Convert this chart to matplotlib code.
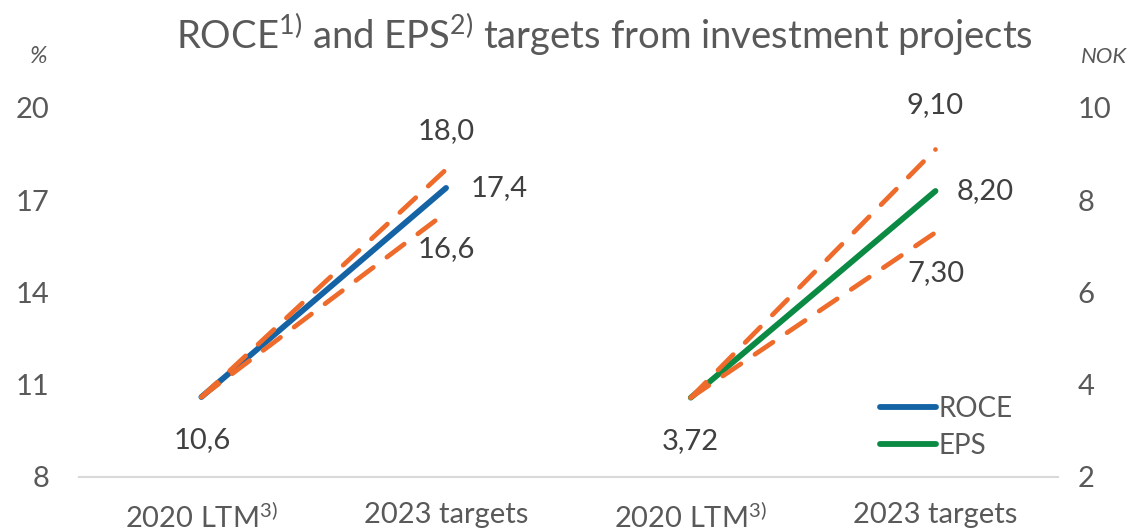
import matplotlib.pyplot as plt
import numpy as np

plt.rcParams["font.family"] = ["Lato", "DejaVu Sans"]
plt.rcParams["mathtext.fontset"] = "custom"
plt.rcParams["mathtext.rm"] = "Lato"
plt.rcParams["mathtext.it"] = "Lato:italic"

# data
categories = ["2020 LTM$^{3)}$", "2023 targets", "2020 LTM$^{3)}$", "2023 targets"]
roce = [10.6, 17.4]
roce_high = [10.6, 18.0]
roce_low = [10.6, 16.6]
eps = [3.72, 8.20]
eps_high = [3.72, 9.10]
eps_low = [3.72, 7.30]
roce_ticks = [8, 11, 14, 17, 20]
eps_ticks = [2, 4, 6, 8, 10]

blue = "#1463A5"
green = "#0B8A44"
orange = "#EE6B2B"
grey = "#595959"

fig = plt.figure(figsize=(11.35, 5.32), dpi=100)
ax = fig.add_axes([0.0696, 0.1034, 0.8624, 0.6936])
ax2 = ax.twinx()

x = np.arange(len(categories))
xr = x[:2]
xe = x[2:]

dash = dict(color=orange, lw=3.4, ls=(0, (4.6, 3.6)), dash_capstyle="round", zorder=3)
ax.plot(xr, roce_high, **dash)
ax.plot(xr, roce_low, **dash)
ax.plot(xr, roce, color=blue, lw=4.2, solid_capstyle="round", zorder=2, label="ROCE")
ax2.plot(xe, eps_high, **dash)
ax2.plot(xe, eps_low, **dash)
ax2.plot(xe, eps, color=green, lw=4.2, solid_capstyle="round", zorder=2, label="EPS")

ax.set_xlim(-0.5, 3.5)
ax.set_ylim(8, 20)
ax2.set_ylim(2, 10)
ax.set_yticks(roce_ticks)
ax2.set_yticks(eps_ticks)
ax.set_xticks(x)
ax.set_xticklabels(categories)

for a in (ax, ax2):
    for s in a.spines.values():
        s.set_visible(False)
    a.tick_params(length=0, labelsize=21, colors=grey)
ax.tick_params(axis="y", pad=21)
ax2.tick_params(axis="y", pad=14)
ax.tick_params(axis="x", pad=18)
ax.spines["bottom"].set_visible(True)
ax.spines["bottom"].set_color("#D9D9D9")
ax.spines["bottom"].set_linewidth(1.5)

def fmt(v, d):
    return f"{v:.{d}f}".replace(".", ",")

lab = dict(fontsize=21, color="#404040", ha="center", va="center")
ax.annotate(fmt(roce[0], 1), (xr[0], roce[0]), xytext=(1, -31), textcoords="offset points", **lab)
ax.annotate(fmt(roce_high[1], 1), (xr[1], roce_high[1]), xytext=(0, 28), textcoords="offset points", **lab)
ax.annotate(fmt(roce[1], 1), (xr[1], roce[1]), xytext=(38, 0), textcoords="offset points", **lab)
ax.annotate(fmt(roce_low[1], 1), (xr[1], roce_low[1]), xytext=(0, -26), textcoords="offset points", **lab)
ax2.annotate(fmt(eps[0], 2), (xe[0], eps[0]), xytext=(0, -31), textcoords="offset points", **lab)
ax2.annotate(fmt(eps_high[1], 2), (xe[1], eps_high[1]), xytext=(0, 32), textcoords="offset points", **lab)
ax2.annotate(fmt(eps[1], 2), (xe[1], eps[1]), xytext=(36, 0), textcoords="offset points", **lab)
ax2.annotate(fmt(eps_low[1], 2), (xe[1], eps_low[1]), xytext=(0, -29), textcoords="offset points", **lab)

h1, l1 = ax.get_legend_handles_labels()
h2, l2 = ax2.get_legend_handles_labels()
leg = ax2.legend(h1 + h2, l1 + l2, loc="lower right", bbox_to_anchor=(0.965, 0.02),
                 frameon=False, fontsize=20, handlelength=2.0, handletextpad=0.1,
                 labelspacing=0.38, borderaxespad=0, labelcolor=grey)

fig.text(0.533, 0.935, "ROCE$^{1)}$ and EPS$^{2)}$ targets from investment projects",
         ha="center", va="center", fontsize=27.5, color=grey)
fig.text(0.034, 0.893, "%", ha="center", va="center", fontsize=17, color=grey, style="italic")
fig.text(0.973, 0.893, "NOK", ha="center", va="center", fontsize=16, color=grey, style="italic")

fig.savefig("out.png", dpi=100)
